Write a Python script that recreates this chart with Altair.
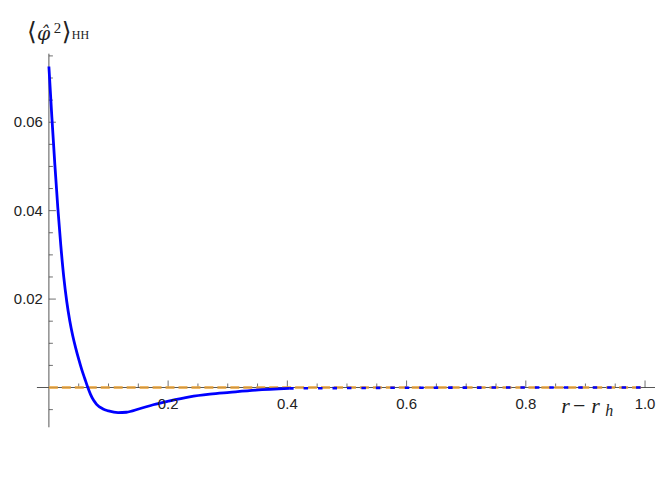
import altair as alt
import pandas as pd

# ---- data ----
curve_x = [0.0, 0.005, 0.010, 0.015, 0.020, 0.025, 0.030, 0.035, 0.040, 0.045,
           0.050, 0.055, 0.060, 0.065, 0.070, 0.075, 0.080, 0.090, 0.100, 0.116, 0.130,
           0.152, 0.175, 0.200, 0.236, 0.270, 0.303, 0.347, 0.403]
curve_y = [0.0726, 0.0611, 0.0504, 0.0406, 0.0321, 0.0249, 0.0194, 0.0151, 0.0117, 0.0089,
           0.0064, 0.0041, 0.0021, 0.0001, -0.0016, -0.0029, -0.0038, -0.0048, -0.0053, -0.0057, -0.0056,
           -0.0048, -0.0039, -0.0031, -0.0021, -0.0015, -0.0011, -0.0006, -0.0002]
tail_x = [0.403, 0.6, 0.8, 1.0]
tail_y = [-0.0002, -0.00005, 0.0, 0.0]
ref_x = [0.0, 1.0]
ref_y = [0.0, 0.0]

x_major = [0.2, 0.4, 0.6, 0.8, 1.0]
x_labels = ["0.2", "0.4", "0.6", "0.8", "1.0"]
x_minor = [0.05, 0.1, 0.15, 0.25, 0.3, 0.35, 0.45, 0.5, 0.55, 0.65, 0.7, 0.75, 0.85, 0.9, 0.95]
y_major = [0.02, 0.04, 0.06]
y_labels = ["0.02", "0.04", "0.06"]
y_minor = [-0.005, 0.005, 0.01, 0.015, 0.025, 0.03, 0.035, 0.045, 0.05, 0.055, 0.065, 0.07, 0.075]
x_axis_range = [-0.0201, 1.0167]
y_axis_range = [-0.0090, 0.0755]

W, H = 650, 440
xs = alt.Scale(domain=[-0.0686, 1.0184], nice=False, zero=False)
ys = alt.Scale(domain=[-0.01353, 0.08568], nice=False, zero=False)

curve = pd.DataFrame({"x": curve_x, "y": curve_y})
tail = pd.DataFrame({"x": tail_x, "y": tail_y})
ref = pd.DataFrame({"x": ref_x, "y": ref_y})
xmaj = pd.DataFrame({"x": x_major, "y": [0.0] * len(x_major), "lab": x_labels})
ymaj = pd.DataFrame({"y": y_major, "x": [0.0] * len(y_major), "lab": y_labels})
xmin_df = pd.DataFrame({"x": x_minor, "y": [0.0] * len(x_minor)})
ymin_df = pd.DataFrame({"y": y_minor, "x": [0.0] * len(y_minor)})
xaxis_df = pd.DataFrame({"x": [x_axis_range[0]], "x2": [x_axis_range[1]], "y": [0.0]})
yaxis_df = pd.DataFrame({"y": [y_axis_range[0]], "y2": [y_axis_range[1]], "x": [0.0]})


def X(f):
    return alt.X(f, type="quantitative", scale=xs, axis=None)


def Y(f):
    return alt.Y(f, type="quantitative", scale=ys, axis=None)


axis_col = "#555555"
tick_col = "#333333"

x_axis = alt.Chart(xaxis_df).mark_rule(color=axis_col, strokeWidth=1).encode(
    x=X("x"), x2="x2:Q", y=Y("y"))
y_axis = alt.Chart(yaxis_df).mark_rule(color=axis_col, strokeWidth=1).encode(
    y=Y("y"), y2="y2:Q", x=X("x"))

xt_major = alt.Chart(xmaj).mark_tick(orient="vertical", size=7, thickness=1, color=tick_col, yOffset=-3.5).encode(
    x=X("x"), y=Y("y"))
xt_minor = alt.Chart(xmin_df).mark_tick(orient="vertical", size=4, thickness=1, color=tick_col, yOffset=-2).encode(
    x=X("x"), y=Y("y"))
yt_major = alt.Chart(ymaj).mark_tick(orient="horizontal", size=7, thickness=1, color=tick_col, xOffset=3.5).encode(
    y=Y("y"), x=X("x"))
yt_minor = alt.Chart(ymin_df).mark_tick(orient="horizontal", size=4, thickness=1, color=tick_col, xOffset=2).encode(
    y=Y("y"), x=X("x"))

ref_line = alt.Chart(ref).mark_line(color="#EBA640", strokeWidth=3, strokeDash=[9, 4], opacity=0.8).encode(
    x=X("x"), y=Y("y"))
main = alt.Chart(curve).mark_line(color="#0000FF", strokeWidth=2.8, interpolate="monotone").encode(
    x=X("x"), y=Y("y"))
tail_line = alt.Chart(tail).mark_line(color="#0000FF", strokeWidth=2.6, strokeDash=[4.5, 10]).encode(
    x=X("x"), y=Y("y"))

xlab = alt.Chart(xmaj).mark_text(font="Liberation Sans", fontSize=15, color="#222222",
                                 baseline="middle", align="center", dy=17).encode(
    x=X("x"), y=Y("y"), text="lab:N")
ylab = alt.Chart(ymaj).mark_text(font="Liberation Sans", fontSize=15, color="#222222",
                                 baseline="middle", align="right", dx=-6).encode(
    y=Y("y"), x=X("x"), text="lab:N")


def ann(txt, x, y, size, style="normal", font="DejaVu Serif", align="left"):
    return alt.Chart(pd.DataFrame({"t": [txt]})).mark_text(
        font=font, fontSize=size, fontStyle=style, color="#222222",
        align=align, baseline="middle").encode(
        x=alt.value(x), y=alt.value(y), text="t:N")


title_parts = [
    ann("⟨", 19, 23, 25),
    ann("φ̂", 29, 25, 19, "italic", "DejaVu Serif"),
    ann("2", 46, 19, 15, "normal", "Liberation Serif"),
    ann("⟩", 54, 23, 25),
    ann("HH", 64, 26, 12, "normal", "Liberation Serif"),
]
xlabel_parts = [
    ann("r", 555, 399, 22, "italic", "Liberation Serif"),
    ann("−", 573, 399, 22, "normal", "Liberation Serif", "center"),
    ann("r", 585, 399, 22, "italic", "Liberation Serif"),
    ann("h", 599, 404, 16, "italic", "Liberation Serif"),
]

chart = alt.layer(
    x_axis, y_axis, xt_major, xt_minor, yt_major, yt_minor,
    ref_line, main, tail_line, xlab, ylab, *title_parts, *xlabel_parts
).properties(width=W, height=H, padding=0).configure_view(stroke=None)

chart.save("out.html", embed_options={"renderer": "svg", "actions": False})
